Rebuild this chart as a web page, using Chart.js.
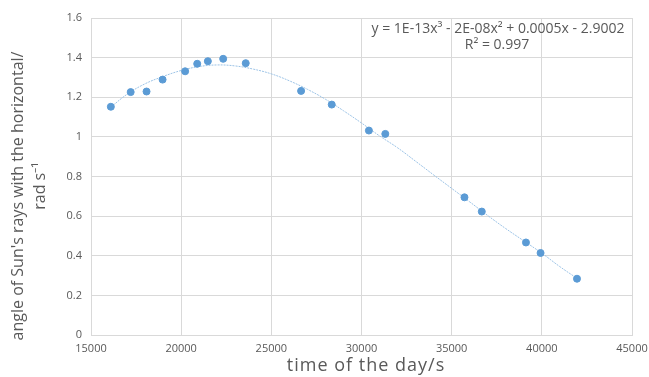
<!DOCTYPE html>
<html>
<head>
<meta charset="utf-8">
<script src="https://cdn.jsdelivr.net/npm/chart.js@4.4.0/dist/chart.umd.min.js"></script>
<style>
  html, body { margin: 0; padding: 0; background: #fff; }
</style>
</head>
<body>
<canvas id="myChart" width="649" height="377"></canvas>
<script>
// measured points (time of day in s, angle in rad)
const timeS = [16100, 17200, 18080, 18970, 20220, 20890, 21480, 22330, 23580,
  26650, 28350, 30410, 31320, 35710, 36670, 39120, 39930, 41950];
const angle = [1.152, 1.226, 1.229, 1.289, 1.331, 1.369, 1.382, 1.394, 1.372,
  1.232, 1.163, 1.032, 1.015, 0.695, 0.623, 0.467, 0.414, 0.284];

// poly trendline
const trendX = [16100, 17000, 18000, 19000, 20000, 21000, 22000, 23000, 24000,
  25000, 26000, 27000, 28000, 29000, 30000, 31000, 32000, 33000, 34000, 35000,
  36000, 37000, 38000, 39000, 40000, 41000, 42000];
const trendY = [1.150, 1.215, 1.268, 1.305, 1.335, 1.355, 1.363, 1.358, 1.342,
  1.318, 1.283, 1.240, 1.190, 1.132, 1.070, 1.005, 0.945, 0.877, 0.808, 0.740,
  0.672, 0.603, 0.537, 0.475, 0.413, 0.345, 0.283];

const xTicks = [15000, 20000, 25000, 30000, 35000, 40000, 45000];
const yTicks = [0, 0.2, 0.4, 0.6, 0.8, 1, 1.2, 1.4, 1.6];

const eqLines = ['y = 1E-13x\u00B3 - 2E-08x\u00B2 + 0.0005x - 2.9002', 'R\u00B2 = 0.997'];
const yTitle = ["angle of Sun's rays with the horizontal/", 'rad s\u207B\u00B9'];
const xTitle = 'time of the day/s';

const textGrey = '#595959';
const font = '"Open Sans", sans-serif';

const labelsPlugin = {
  id: 'labels',
  afterDraw(chart) {
    const c = chart.ctx;
    c.save();
    c.fillStyle = textGrey;
    c.textAlign = 'center';
    c.textBaseline = 'middle';
    c.font = '14px ' + font;
    c.fillText(eqLines[0], 498, 29);
    c.fillText(eqLines[1], 497, 45);
    c.font = '18px ' + font;
    c.letterSpacing = '1px';
    c.fillText(xTitle, 366, 366);
    c.letterSpacing = '0px';
    c.font = '16px ' + font;
    c.translate(18, 196);
    c.rotate(-Math.PI / 2);
    c.fillText(yTitle[0], 0, 0);
    c.fillText(yTitle[1], 10, 22);
    c.restore();
  }
};

const ctx = document.getElementById('myChart').getContext('2d');
const myChart = new Chart(ctx, {
  type: 'scatter',
  data: {
    datasets: [{
      label: 'trend',
      data: trendX.map((x, i) => ({ x: x, y: trendY[i] })),
      showLine: true,
      borderColor: '#9cc3e6',
      borderWidth: 1,
      borderDash: [2, 1],
      pointRadius: 0,
      tension: 0.4,
      order: 2
    }, {
      label: 'angle',
      data: timeS.map((x, i) => ({ x: x, y: angle[i] })),
      backgroundColor: '#5b9bd5',
      borderColor: '#5b9bd5',
      pointRadius: 3.5,
      order: 1
    }]
  },
  options: {
    responsive: false,
    animation: false,
    layout: { padding: { top: 18, right: 17, left: 0, bottom: 0 } },
    plugins: {
      legend: { display: false },
      tooltip: { enabled: false }
    },
    scales: {
      x: {
        type: 'linear',
        min: 15000, max: 45000,
        afterBuildTicks: s => { s.ticks = xTicks.map(v => ({ value: v })); },
        afterFit: s => { s.height = 42; s.paddingLeft = 0; s.paddingRight = 0; },
        grid: { color: '#d9d9d9', drawTicks: false },
        border: { color: '#d9d9d9' },
        ticks: { color: textGrey, font: { family: font, size: 11 }, padding: 7,
          maxRotation: 0, autoSkip: false, callback: v => String(v) }
      },
      y: {
        min: 0, max: 1.6,
        afterBuildTicks: s => { s.ticks = yTicks.map(v => ({ value: v })); },
        afterFit: s => { s.width = 91; s.paddingTop = 0; s.paddingBottom = 0; },
        grid: { color: '#d9d9d9', drawTicks: false },
        border: { color: '#d9d9d9' },
        ticks: { color: textGrey, font: { family: font, size: 11 }, padding: 9,
          autoSkip: false, callback: v => String(v) }
      }
    }
  },
  plugins: [labelsPlugin]
});
</script>
</body>
</html>
